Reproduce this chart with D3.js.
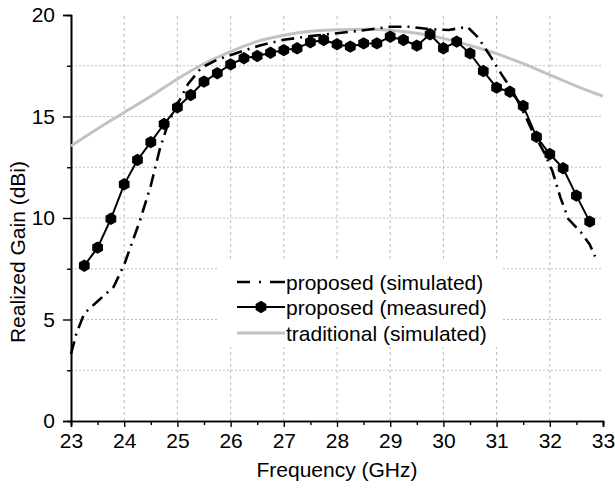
<!DOCTYPE html>
<html>
<head>
<meta charset="utf-8">
<script src="https://cdn.jsdelivr.net/npm/d3@7"></script>
<style>
  html, body { margin: 0; padding: 0; background: #fff; }
  svg { display: block; font-family: Arial, "Liberation Sans", Helvetica, sans-serif; }
</style>
</head>
<body>
<svg id="chart" width="615" height="488"></svg>
<script>
// Proposed antenna, simulated realized gain (GHz, dBi)
const simFreq = [23.0, 23.1, 23.25, 23.5, 23.8, 24.0, 24.3, 24.5, 24.67, 24.83, 25.0, 25.2, 25.45, 25.75,
  26.2, 26.55, 27.0, 27.5, 28.0, 28.5, 29.0, 29.35, 29.75, 30.1, 30.45, 30.65, 30.9, 31.1, 31.3,
  31.5, 31.65, 31.9, 32.05, 32.2, 32.35, 32.6, 32.75, 32.85];
const simGain = [3.3, 4.3, 5.3, 5.9, 6.6, 7.7, 9.9, 11.6, 13.4, 14.7, 15.6, 16.6, 17.4, 17.8,
  18.2, 18.5, 18.78, 18.96, 19.1, 19.25, 19.42, 19.42, 19.3, 19.26, 19.42, 18.9, 17.9, 17.05, 16.25,
  15.25, 14.4, 13.2, 12.3, 11.0, 9.95, 9.25, 8.7, 8.1];

// Proposed antenna, measured realized gain
const measFreq = [23.25, 23.5, 23.75, 24.0, 24.25, 24.5, 24.75, 25.0, 25.25, 25.5, 25.75, 26.0,
  26.25, 26.5, 26.75, 27.0, 27.25, 27.5, 27.75, 28.0, 28.25, 28.5, 28.75, 29.0, 29.25, 29.5,
  29.75, 30.0, 30.25, 30.5, 30.75, 31.0, 31.25, 31.5, 31.75, 32.0, 32.25, 32.5, 32.75];
const measGain = [7.65, 8.54, 9.96, 11.66, 12.86, 13.74, 14.63, 15.45, 16.06, 16.72, 17.13, 17.57,
  17.87, 17.98, 18.14, 18.27, 18.36, 18.66, 18.77, 18.56, 18.44, 18.6, 18.6, 18.93, 18.77, 18.49,
  19.05, 18.36, 18.69, 18.11, 17.24, 16.42, 16.22, 15.52, 14.0, 13.15, 12.45, 11.1, 9.82];

// Traditional antenna, simulated realized gain
const tradFreq = [23.0, 23.5, 24.0, 24.5, 25.0, 25.5, 26.0, 26.5, 27.0, 27.5, 28.0, 28.5, 29.0,
  29.5, 30.0, 30.5, 31.0, 31.5, 32.0, 32.5, 33.0];
const tradGain = [13.55, 14.4, 15.2, 16.0, 16.85, 17.6, 18.2, 18.7, 19.0, 19.2, 19.27, 19.3, 19.25,
  19.1, 18.85, 18.5, 18.1, 17.6, 17.05, 16.5, 16.0];

const xTicks = [23, 24, 25, 26, 27, 28, 29, 30, 31, 32, 33];
const yTicks = [0, 5, 10, 15, 20];
const legendLabels = ["proposed (simulated)", "proposed (measured)", "traditional (simulated)"];

const svg = d3.select("#chart");
const margin = { left: 71, right: 12, top: 15, bottom: 67 };
const W = 615, H = 488;
const x = d3.scaleLinear().domain([23, 33]).range([margin.left, W - margin.right]);
const y = d3.scaleLinear().domain([0, 20]).range([H - margin.bottom, margin.top]);

const FONT = 21;
const gridColor = "#bdbdbd";

// grid: vertical at each GHz, horizontal every 2.5 dB
const g = svg.append("g");
g.selectAll("line.vg").data(d3.range(24, 33)).join("line")
  .attr("x1", d => x(d)).attr("x2", d => x(d))
  .attr("y1", y(0)).attr("y2", y(20))
  .attr("stroke", gridColor).attr("stroke-width", 1).attr("stroke-dasharray", "3,3");
g.selectAll("line.hg").data(d3.range(2.5, 20, 2.5)).join("line")
  .attr("x1", x(23)).attr("x2", x(33))
  .attr("y1", d => y(d)).attr("y2", d => y(d))
  .attr("stroke", gridColor).attr("stroke-width", 1).attr("stroke-dasharray", "2,2");

// legend background hides the grid behind it
const legend = svg.append("g");
legend.append("rect")
  .attr("x", 217).attr("y", 261).attr("width", 284).attr("height", 86)
  .attr("fill", "#fff");

// axes
const xAxis = d3.axisBottom(x).tickValues(xTicks).tickSize(6).tickPadding(6).tickFormat(d3.format("d"));
const xMinor = d3.axisBottom(x).tickValues(d3.range(23.5, 33, 1)).tickSize(4).tickFormat("");
const yAxis = d3.axisLeft(y).tickValues(yTicks).tickSize(8).tickPadding(8).tickFormat(d3.format("d"));
const yMinor = d3.axisLeft(y).tickValues(d3.range(2.5, 20, 5)).tickSize(4).tickFormat("");

function styleAxis(sel) {
  sel.select(".domain").attr("stroke", "#000").attr("stroke-width", 1.6);
  sel.selectAll(".tick line").attr("stroke", "#000").attr("stroke-width", 1.4);
  sel.selectAll(".tick text").attr("fill", "#000").style("font-size", FONT + "px")
    .style("font-family", "Arial, 'Liberation Sans', sans-serif");
}
svg.append("g").attr("transform", `translate(0,${y(0)})`).call(xMinor).call(styleAxis);
svg.append("g").attr("transform", `translate(0,${y(0)})`).call(xAxis).call(styleAxis);
svg.append("g").attr("transform", `translate(${x(23)},0)`).call(yMinor).call(styleAxis);
svg.append("g").attr("transform", `translate(${x(23)},0)`).call(yAxis).call(styleAxis);

// axis titles
svg.append("text").attr("x", (x(23) + x(33)) / 2).attr("y", 477)
  .attr("text-anchor", "middle").style("font-size", FONT + "px").text("Frequency (GHz)");
svg.append("text").attr("transform", `translate(25,252) rotate(-90)`)
  .attr("text-anchor", "middle").style("font-size", FONT + "px").text("Realized Gain (dBi)");

// curves
const trad = tradFreq.map((f, i) => [f, tradGain[i]]);
const sim = simFreq.map((f, i) => [f, simGain[i]]);
const meas = measFreq.map((f, i) => [f, measGain[i]]);

const smooth = d3.line().x(d => x(d[0])).y(d => y(d[1])).curve(d3.curveMonotoneX);
const straight = d3.line().x(d => x(d[0])).y(d => y(d[1]));

const DASHDOT = "13,6,2,6";

svg.append("path").attr("d", smooth(trad))
  .attr("fill", "none").attr("stroke", "#c2c2c2").attr("stroke-width", 3);
svg.append("path").attr("d", straight(meas))
  .attr("fill", "none").attr("stroke", "#000").attr("stroke-width", 2);
svg.append("path").attr("d", straight(sim))
  .attr("fill", "none").attr("stroke", "#000").attr("stroke-width", 2.6)
  .attr("stroke-dasharray", DASHDOT);

// hexagon markers for measured points
function hexPath(r) {
  const pts = d3.range(6).map(k => {
    const a = Math.PI / 3 * k - Math.PI / 2;
    return [r * Math.cos(a), r * Math.sin(a)];
  });
  return "M" + pts.map(p => p.join(",")).join("L") + "Z";
}
svg.selectAll("path.hex").data(meas).join("path")
  .attr("class", "hex")
  .attr("d", hexPath(6.2))
  .attr("transform", d => `translate(${x(d[0])},${y(d[1])})`)
  .attr("fill", "#000");

// legend entries
const rowY = [282, 307, 333];
const lx0 = 237, lx1 = 285;
legend.append("line").attr("x1", lx0).attr("x2", lx1).attr("y1", rowY[0]).attr("y2", rowY[0])
  .attr("stroke", "#000").attr("stroke-width", 2.6).attr("stroke-dasharray", "13,9,2,9,15");
legend.append("line").attr("x1", lx0).attr("x2", lx1).attr("y1", rowY[1]).attr("y2", rowY[1])
  .attr("stroke", "#000").attr("stroke-width", 2);
legend.append("path").attr("d", hexPath(6.2))
  .attr("transform", `translate(${(lx0 + lx1) / 2},${rowY[1]})`).attr("fill", "#000");
legend.append("line").attr("x1", lx0).attr("x2", lx1).attr("y1", rowY[2]).attr("y2", rowY[2])
  .attr("stroke", "#c2c2c2").attr("stroke-width", 3);
legend.selectAll("text.lt").data(legendLabels).join("text")
  .attr("x", lx1 + 1).attr("y", (d, i) => rowY[i] + 7.5)
  .style("font-size", FONT + "px").attr("fill", "#000").text(d => d);
</script>
</body>
</html>
